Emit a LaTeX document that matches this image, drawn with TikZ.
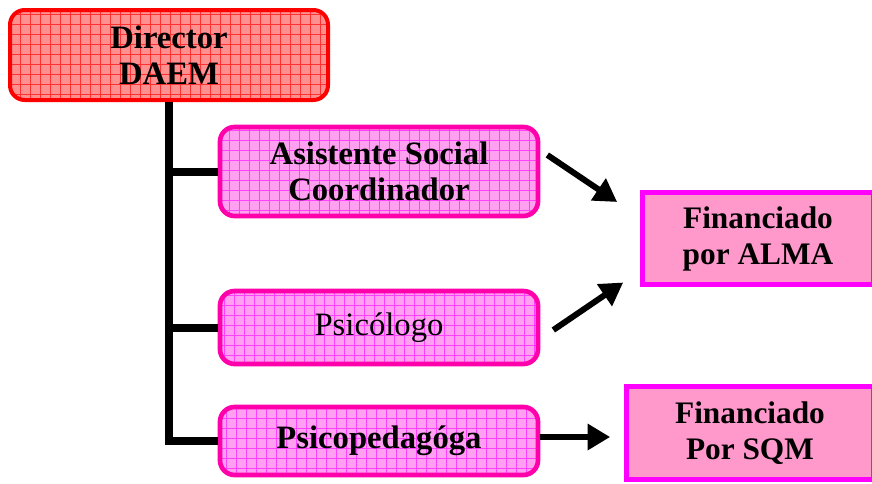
\documentclass[tikz,border=0pt]{standalone}
\usepackage{fontspec}
\setmainfont{Liberation Serif}
\usetikzlibrary{arrows.meta}
\definecolor{dirred}{HTML}{FF0000}
\definecolor{dirfill}{HTML}{FF9090}
\definecolor{dirgrid}{HTML}{FF3030}
\definecolor{staffline}{HTML}{FF00AA}
\definecolor{stafffill}{HTML}{FFA0F0}
\definecolor{staffgrid}{HTML}{FF40FF}
\definecolor{fundline}{HTML}{FF00FF}
\definecolor{fundfill}{HTML}{FF99CC}
\begin{document}
\begin{tikzpicture}[x=0.75pt,y=-0.75pt,
gridfill/.style={path picture={\draw[#1,line width=0.4pt] (path picture bounding box.south west) grid[step=7.5pt] (path picture bounding box.north east);}},
dirbox/.style={draw=dirred,fill=dirfill,gridfill=dirgrid,line width=3pt,rounded corners=11pt,minimum width=238.5pt,minimum height=67.5pt,align=center,font={\fontsize{24.5}{27}\selectfont\bfseries}},
staffbox/.style={draw=staffline,fill=stafffill,gridfill=staffgrid,line width=3.5pt,rounded corners=11pt,minimum width=238.5pt,align=center,font={\fontsize{24.5}{27}\selectfont\bfseries}},
fundbox/.style={draw=fundline,fill=fundfill,line width=3.75pt,align=center,font={\fontsize{23.5}{27}\selectfont\bfseries}},
trunk/.style={line width=6pt},
arr/.style={line width=4.5pt,-{Triangle[length=17pt,width=19pt]}}]
\useasboundingbox (0,0) rectangle (872,483);
\clip (0,0) rectangle (872,483);
% nodes
\node[dirbox] (dir) at (169,55) {Director\\DAEM};
\node[staffbox,minimum height=66.75pt] (asis) at (379,171.5) {Asistente Social\\Coordinador};
\node[staffbox,minimum height=54.75pt,font={\fontsize{24.5}{27}\selectfont}] (psic) at (379,327.5) {Psicólogo};
\node[staffbox,minimum height=51pt] (psiped) at (379,441) {Psicopedagóga};
\node[fundbox,minimum width=173pt,minimum height=69pt] (alma) at (758,238.5) {Financiado\\por ALMA};
\node[fundbox,minimum width=185pt,minimum height=69.75pt] (sqm) at (750,433) {Financiado\\Por SQM};
% tree
\draw[trunk] (dir.south) |- (psiped.west);
\draw[trunk] (dir.south |- asis.west) -- (asis.west);
\draw[trunk] (dir.south |- psic.west) -- (psic.west);
% arrows
\draw[arr] ([shift={(7,-16.5)}]asis.east) -- ([shift={(-23,-36.5)}]alma.west);
\draw[arr] ([shift={(13,2.5)}]psic.east) -- ([shift={(-17,44)}]alma.west);
\draw[arr] ([shift={(0,-4)}]psiped.east) -- ([shift={(-14,4)}]sqm.west);
\end{tikzpicture}
\end{document}
